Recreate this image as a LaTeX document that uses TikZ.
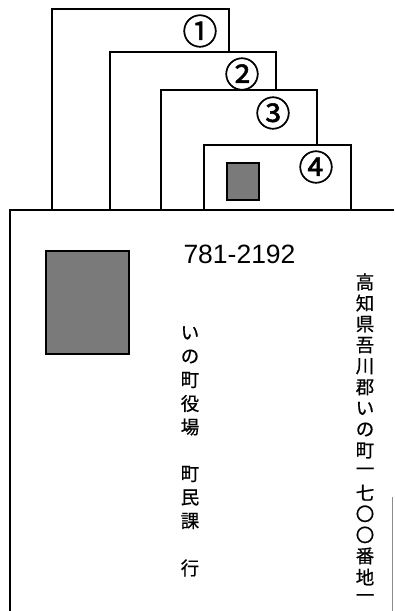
\documentclass[tikz,border=0pt]{standalone}
\usepackage{fontspec}
\setmainfont{Liberation Sans}
\newfontfamily\cjk[FakeBold=0.6]{Noto Sans CJK JP}
\newfontfamily\cjkc[FakeBold=1.5]{Noto Sans CJK JP}
\begin{document}
\begin{tikzpicture}[x=1pt,y=-1pt,
  card/.style={draw=black,line width=1.4pt,fill=white},
  stampbox/.style={draw=black,line width=1.2pt,fill=black!52},
  circnum/.style={font=\cjkc\fontsize{35}{35}\selectfont,inner sep=0pt},
  vt/.style={font=\cjk\fontsize{18.5}{18.5}\selectfont,inner sep=0pt},
  zip/.style={font=\fontsize{26.5}{26.5}\selectfont,inner sep=0pt}]
\useasboundingbox (0,0) rectangle (394,611);
% stacked cards
\draw[card] (52,210) -- (52,9) -- (229,9) -- (229,210);
\draw[card] (110,210) -- (110,52) -- (276,52) -- (276,210);
\draw[card] (161,210) -- (161,90) -- (317,90) -- (317,210);
\draw[card] (204,210) -- (204,145) -- (351,145) -- (351,210);
\node[circnum] (n1) at (200,31) {①};
\node[circnum] (n2) at (242,74) {②};
\node[circnum] (n3) at (273,113) {③};
\node[circnum] (n4) at (316,167) {④};
\node[stampbox,minimum width=32pt,minimum height=37pt,inner sep=0pt] (s4) at (243,181.5) {};
% envelope
\draw[line width=1.3pt] (10,611) -- (10,210) -- (394,210);
\draw[black!45,line width=0.8pt] (392,497) -- (392,611);
\node[stampbox,minimum width=83pt,minimum height=103pt,inner sep=0pt] (stamp) at (87.5,302.5) {};
\node[zip] (zip) at (239.5,254) {781-2192};
\foreach \c/\k in {い/0,の/1,町/2,役/3,場/4,町/6,民/7,課/8,行/10}
  \node[vt] (L\k) at (190,{333+23.5*\k}) {\c};
\foreach \c [count=\i from 0] in {高,知,県,吾,川,郡,い,の,町,一,七,〇,〇,番,地,一}
  \node[vt] (R\i) at (365,{282+21.07*\i}) {\c};
\end{tikzpicture}
\end{document}
